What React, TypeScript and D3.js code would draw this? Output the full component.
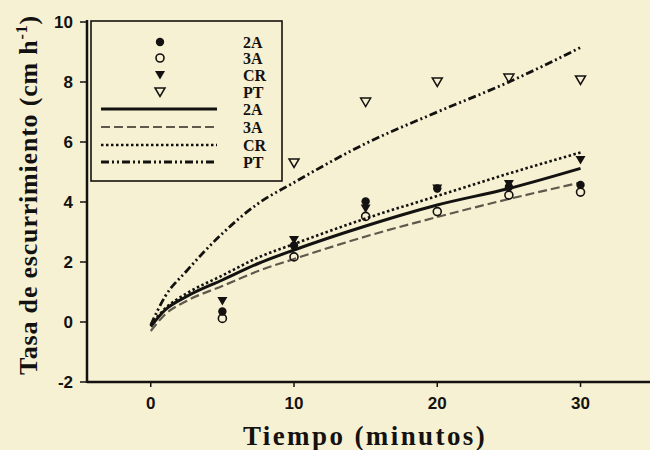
import React from "react";
import * as d3 from "d3";

// observed points (minutes)
const obsTimes = [5, 10, 15, 20, 25, 30];
const obs2A = [0.35, 2.55, 4.02, 4.45, 4.5, 4.57];
const obs3A = [0.12, 2.17, 3.52, 3.68, 4.23, 4.33];
const obsCR = [0.7, 2.73, 3.78, 4.45, 4.6, 5.4];
const obsPT = [null, 5.3, 7.33, 8.0, 8.13, 8.07];

// fitted curves
const fitTimes = [0, 1, 2.5, 5, 7.5, 10, 15, 20, 25, 30];
const fit2A = [-0.15, 0.4, 0.85, 1.4, 1.95, 2.4, 3.2, 3.9, 4.45, 5.12];
const fit3A = [-0.3, 0.25, 0.7, 1.2, 1.7, 2.1, 2.85, 3.5, 4.1, 4.65];
const fitCR = [-0.1, 0.45, 0.95, 1.55, 2.15, 2.6, 3.45, 4.2, 4.95, 5.65];
const fitPT = [-0.1, 0.85, 1.7, 2.95, 3.95, 4.65, 5.95, 7.0, 8.0, 9.15];

const xTicks = [0, 10, 20, 30];
const yTicks = [-2, 0, 2, 4, 6, 8, 10];
const seriesNames = ["2A", "3A", "CR", "PT"];

const W = 650,
  H = 450;
const bg = "#f6f1d3";
const ink = "#141210";

const lineStyles: Record<string, { w: number; dash?: string; color: string }> = {
  "2A": { w: 3, color: ink },
  "3A": { w: 2.2, dash: "9,4", color: "#5e584d" },
  CR: { w: 2.6, dash: "2.5,2.5", color: ink },
  PT: { w: 2.8, dash: "8,3,2,3,2,3", color: ink },
};

function Marker({ name, x, y }: { name: string; x: number; y: number }) {
  if (name === "2A") return <circle cx={x} cy={y} r={4.2} fill={ink} />;
  if (name === "3A") return <circle cx={x} cy={y} r={4} fill="none" stroke={ink} strokeWidth={1.6} />;
  const pts = `${x - 5},${y - 4} ${x + 5},${y - 4} ${x},${y + 4.5}`;
  if (name === "CR") return <polygon points={pts} fill={ink} />;
  return <polygon points={pts} fill="none" stroke={ink} strokeWidth={1.5} />;
}

export default function App() {
  const x = d3.scaleLinear().domain([-4.45, 34.85]).range([87, 650]);
  const y = d3.scaleLinear().domain([-2, 10]).range([382, 22]);

  const fits: Record<string, number[]> = { "2A": fit2A, "3A": fit3A, CR: fitCR, PT: fitPT };
  const obs: Record<string, (number | null)[]> = { "2A": obs2A, "3A": obs3A, CR: obsCR, PT: obsPT };

  const line = d3
    .line<number>()
    .x((_, i) => x(fitTimes[i]))
    .y((d) => y(d))
    .curve(d3.curveMonotoneX);

  const legRowsMarker = [42, 58, 75, 92];
  const legRowsLine = [109, 127, 145, 162];

  return (
    <svg width={W} height={H} style={{ position: "absolute", left: 0, top: 0, background: bg }}>
      <rect width={W} height={H} fill={bg} />

      {/* fitted curves */}
      {["3A", "2A", "CR", "PT"].map((n) => (
        <path
          key={"f" + n}
          d={line(fits[n]) || ""}
          fill="none"
          stroke={lineStyles[n].color}
          strokeWidth={lineStyles[n].w}
          strokeDasharray={lineStyles[n].dash}
        />
      ))}

      {/* observations */}
      {["PT", "3A", "2A", "CR"].map((n) =>
        obs[n].map((v, i) =>
          v == null ? null : <Marker key={n + i} name={n} x={x(obsTimes[i])} y={y(v)} />
        )
      )}

      {/* axes */}
      <line x1={87} x2={650} y1={y(-2)} y2={y(-2)} stroke={ink} strokeWidth={2.5} />
      <line x1={87} x2={87} y1={20} y2={y(-2) + 1} stroke={ink} strokeWidth={2.5} />
      {yTicks.map((t) => (
        <g key={"y" + t}>
          <line x1={80} x2={87} y1={y(t)} y2={y(t)} stroke={ink} strokeWidth={1.5} />
          <text
            x={73}
            y={y(t)}
            dy="0.36em"
            textAnchor="end"
            fontFamily="Liberation Sans, Arial, sans-serif"
            fontWeight="bold"
            fontSize={17}
            fill={ink}
          >
            {t}
          </text>
        </g>
      ))}
      {xTicks.map((t) => (
        <g key={"x" + t}>
          <line x1={x(t)} x2={x(t)} y1={y(-2)} y2={y(-2) + 5} stroke={ink} strokeWidth={1.5} />
          <text
            x={x(t)}
            y={409}
            textAnchor="middle"
            fontFamily="Liberation Sans, Arial, sans-serif"
            fontWeight="bold"
            fontSize={17}
            fill={ink}
          >
            {t}
          </text>
        </g>
      ))}

      {/* axis titles */}
      <text
        x={365}
        y={445}
        textAnchor="middle"
        fontFamily="Liberation Serif, Times New Roman, serif"
        fontWeight="bold"
        fontSize={27}
        letterSpacing={2.4}
        fill={ink}
      >
        Tiempo (minutos)
      </text>
      <text
        transform="translate(37,195) rotate(-90)"
        textAnchor="middle"
        fontFamily="Liberation Serif, Times New Roman, serif"
        fontWeight="bold"
        fontSize={26}
        letterSpacing={0.8}
        fill={ink}
      >
        Tasa de escurrimiento (cm h
        <tspan fontSize={16} dy={-10}>
          -1
        </tspan>
        <tspan dy={10}>)</tspan>
      </text>

      {/* legend */}
      <rect x={91} y={21} width={191} height={160} fill={bg} stroke={ink} strokeWidth={1.6} />
      {seriesNames.map((n, i) => (
        <g key={"lm" + n}>
          <Marker name={n} x={160} y={legRowsMarker[i]} />
          <text
            x={243}
            y={legRowsMarker[i]}
            dy="0.35em"
            fontFamily="Liberation Serif, Times New Roman, serif"
            fontWeight="bold"
            fontSize={16}
            fill={ink}
          >
            {n}
          </text>
        </g>
      ))}
      {seriesNames.map((n, i) => (
        <g key={"ll" + n}>
          <line
            x1={101}
            x2={217}
            y1={legRowsLine[i]}
            y2={legRowsLine[i]}
            stroke={lineStyles[n].color}
            strokeWidth={lineStyles[n].w}
            strokeDasharray={lineStyles[n].dash}
          />
          <text
            x={243}
            y={legRowsLine[i]}
            dy="0.35em"
            fontFamily="Liberation Serif, Times New Roman, serif"
            fontWeight="bold"
            fontSize={16}
            fill={ink}
          >
            {n}
          </text>
        </g>
      ))}
    </svg>
  );
}
